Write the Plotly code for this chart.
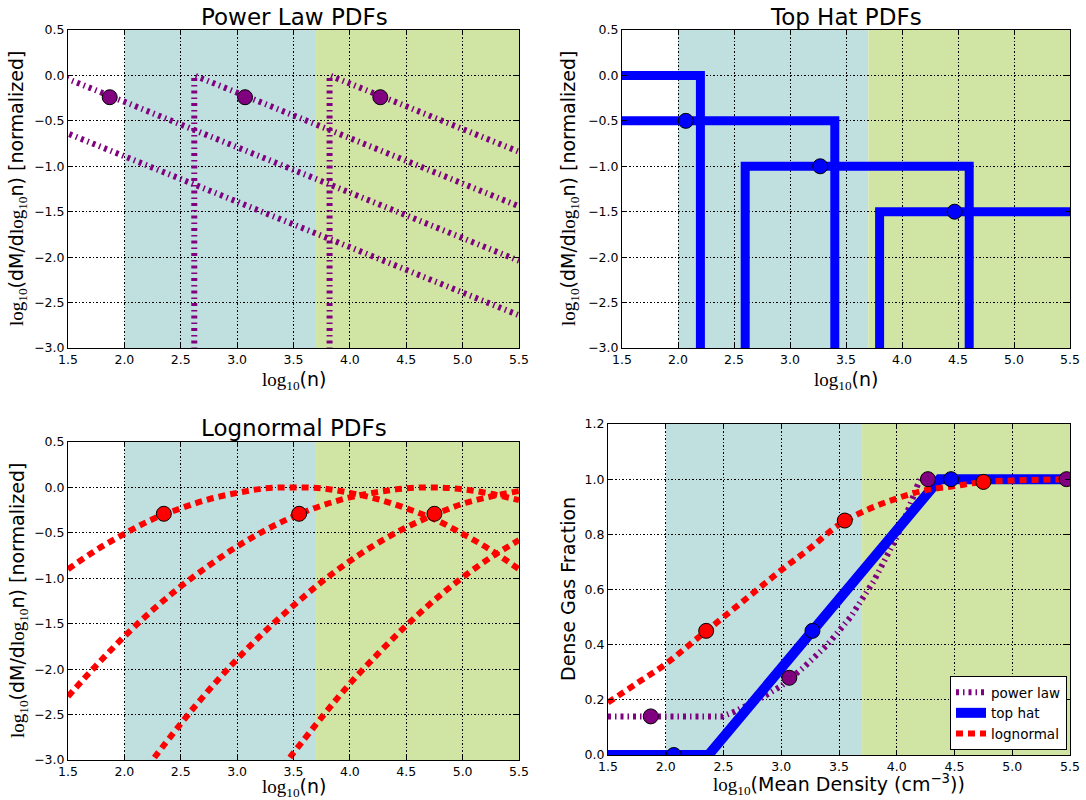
import plotly.graph_objects as go

# ---------------- data ----------------
# Power-law PDFs (threshold lines + slope -0.5 tails)
pl_line_x = [[0.22, 0.22, 5.5], [1.42, 1.42, 5.5], [2.62, 2.62, 5.5], [3.82, 3.82, 5.5]]
pl_line_y = [[-3.5, 0.0, -2.64], [-3.5, 0.0, -2.04], [-3.5, 0.0, -1.44], [-3.5, 0.0, -0.84]]
pl_dot_x = [1.87, 3.07, 4.27]
pl_dot_y = [-0.24, -0.24, -0.24]

# Top-hat PDFs
th_line_x = [[1.0, 2.2, 2.2], [1.0, 3.4, 3.4], [2.6, 2.6, 4.6, 4.6], [3.8, 3.8, 6.0]]
th_line_y = [[0.0, 0.0, -3.5], [-0.5, -0.5, -3.5], [-3.5, -1.0, -1.0, -3.5], [-3.5, -1.5, -1.5]]
th_dot_x = [2.07, 3.27, 4.47]
th_dot_y = [-0.5, -1.0, -1.5]

# Lognormal PDFs
ln1_x = [1.5, 1.75, 2.0, 2.25, 2.5, 2.75, 3.0, 3.25, 3.5, 3.75, 4.0, 4.25, 4.5, 4.75, 5.0, 5.25, 5.5]
ln1_y = [-0.90, -0.69, -0.51, -0.35, -0.23, -0.13, -0.06, -0.01, 0.0, -0.01, -0.06, -0.13, -0.23, -0.35, -0.51, -0.69, -0.90]
ln2_x = [1.5, 1.75, 2.0, 2.25, 2.5, 2.75, 3.0, 3.25, 3.5, 3.75, 4.0, 4.25, 4.5, 4.75, 5.0, 5.25, 5.5]
ln2_y = [-2.30, -1.96, -1.64, -1.35, -1.09, -0.86, -0.65, -0.47, -0.32, -0.20, -0.11, -0.05, -0.01, 0.0, -0.02, -0.07, -0.14]
ln3_x = [2.2, 2.5, 2.75, 3.0, 3.25, 3.5, 3.75, 4.0, 4.25, 4.5, 4.75, 5.0, 5.25, 5.5]
ln3_y = [-3.08, -2.60, -2.23, -1.89, -1.58, -1.30, -1.04, -0.81, -0.61, -0.44, -0.30, -0.18, -0.10, -0.04]
ln4_x = [3.4, 3.75, 4.0, 4.25, 4.5, 4.75, 5.0, 5.25, 5.5]
ln4_y = [-3.08, -2.53, -2.16, -1.83, -1.52, -1.24, -0.99, -0.77, -0.58]
ln_dot_x = [2.35, 3.55, 4.75]
ln_dot_y = [-0.29, -0.29, -0.29]

# Dense gas fraction vs mean density
dg_pl_x = [1.5, 2.0, 2.49, 2.6, 2.8, 3.0, 3.2, 3.4, 3.6, 3.8, 4.0, 4.1, 4.2, 5.5]
dg_pl_y = [0.14, 0.14, 0.14, 0.158, 0.20, 0.25, 0.32, 0.40, 0.50, 0.63, 0.79, 0.89, 1.0, 1.0]
dg_th_x = [1.5, 2.37, 4.37, 5.5]
dg_th_y = [0.0, 0.0, 1.0, 1.0]
dg_ln_x = [1.5, 1.75, 2.0, 2.25, 2.5, 2.75, 3.0, 3.25, 3.5, 3.75, 4.0, 4.25, 4.5, 4.75, 5.0, 5.25, 5.5]
dg_ln_y = [0.19, 0.26, 0.33, 0.415, 0.50, 0.585, 0.67, 0.75, 0.835, 0.89, 0.93, 0.96, 0.975, 0.99, 0.995, 0.998, 1.0]
dg_pl_dot_x = [1.87, 3.07, 4.27, 5.47]
dg_pl_dot_y = [0.14, 0.28, 1.0, 1.0]
dg_th_dot_x = [2.07, 3.27, 4.47]
dg_th_dot_y = [0.0, 0.45, 1.0]
dg_ln_dot_x = [2.35, 3.55, 4.75]
dg_ln_dot_y = [0.45, 0.85, 0.99]

# shaded density regimes
band_edges = [2.0, 3.7, 5.6]
band_colors = ["#C0E0E0", "#D0E5A4"]

x_ticks_range = [1.5, 5.5]
pdf_y_range = [-3.0, 0.5]
frac_y_range = [0.0, 1.2]

# ---------------- styles ----------------
PURPLE = "#800080"
BLUE = "#0000FF"
RED = "#FF0000"
PL_DASH = "3px,4px,1.5px,4px"
LN_DASH = "7px,5px"

fig = go.Figure()

def add_line(x, y, ax, color, width, dash, name=None, show=False, shape="linear"):
    fig.add_trace(go.Scatter(
        x=x, y=y, xaxis="x" + ax, yaxis="y" + ax, mode="lines",
        line=dict(color=color, width=width, dash=dash, shape=shape),
        name=name, showlegend=show, hoverinfo="skip"))

def add_dots(x, y, ax, color):
    fig.add_trace(go.Scatter(
        x=x, y=y, xaxis="x" + ax, yaxis="y" + ax, mode="markers",
        marker=dict(color=color, size=15, line=dict(color="black", width=1)),
        showlegend=False, hoverinfo="skip"))

# panel 1 : power law
for xs, ys in zip(pl_line_x, pl_line_y):
    add_line(xs, ys, "", PURPLE, 6, PL_DASH)
add_dots(pl_dot_x, pl_dot_y, "", PURPLE)

# panel 2 : top hat
for xs, ys in zip(th_line_x, th_line_y):
    add_line(xs, ys, "2", BLUE, 9, "solid")
add_dots(th_dot_x, th_dot_y, "2", BLUE)

# panel 3 : lognormal
for xs, ys in [(ln1_x, ln1_y), (ln2_x, ln2_y), (ln3_x, ln3_y), (ln4_x, ln4_y)]:
    add_line(xs, ys, "3", RED, 6, LN_DASH, shape="spline")
add_dots(ln_dot_x, ln_dot_y, "3", RED)

# panel 4 : dense gas fraction
add_line(dg_pl_x, dg_pl_y, "4", PURPLE, 6, PL_DASH, "power law", True)
add_line(dg_th_x, dg_th_y, "4", BLUE, 10, "solid", "top hat", True)
add_line(dg_ln_x, dg_ln_y, "4", RED, 6, LN_DASH, "lognormal", True, "spline")
add_dots(dg_pl_dot_x, dg_pl_dot_y, "4", PURPLE)
add_dots(dg_th_dot_x, dg_th_dot_y, "4", BLUE)
add_dots(dg_ln_dot_x, dg_ln_dot_y, "4", RED)

W, H = 1086, 800
def px(v):
    return v / W
def py(v):
    return 1 - v / H

dom = {
    "": ([68, 519], [30, 348]),
    "2": ([622, 1070], [30, 348]),
    "3": ([68, 519], [442, 760]),
    "4": ([608, 1070], [424, 755]),
}

axis_common = dict(
    showline=True, linecolor="black", linewidth=1, mirror="ticks",
    ticks="inside", ticklen=5, tickwidth=1, tickcolor="black",
    showgrid=True, gridcolor="black", gridwidth=1, griddash="1.5px,2px",
    zeroline=False, tickformat=".1f", automargin=False,
    tickfont=dict(family="DejaVu Sans", size=12.5, color="black"),
)

layout_axes = {}
for key, (xd, yd) in dom.items():
    n = key if key else ""
    xname = "xaxis" + n
    yname = "yaxis" + n
    layout_axes[xname] = dict(axis_common, domain=[px(xd[0]), px(xd[1])],
                              range=x_ticks_range, dtick=0.5, tick0=0,
                              anchor="y" + n)
    yr = frac_y_range if key == "4" else pdf_y_range
    layout_axes[yname] = dict(axis_common, domain=[py(yd[1]), py(yd[0])],
                              range=yr, dtick=0.2 if key == "4" else 0.5, tick0=0,
                              anchor="x" + n)

shapes = []
for key in dom:
    for i, c in enumerate(band_colors):
        shapes.append(dict(type="rect", xref="x" + key, yref=("y" + key) + " domain",
                           x0=band_edges[i], x1=band_edges[i + 1], y0=0, y1=1,
                           fillcolor=c, line=dict(width=0), layer="below"))

LOG = '<span style="font-family:Liberation Serif">log<sub>10</sub></span>'
ylab_pdf = LOG + "(dM/d" + LOG + "n) [normalized]"
xlab_n = LOG + "(n)"
xlab_md = LOG + "(Mean Density (cm<sup>−3</sup>))"

lab_font = dict(family="DejaVu Sans", size=19, color="black")
tit_font = dict(family="DejaVu Sans", size=23, color="black")

annotations = []
def ann(text, x, y, font, angle=0):
    annotations.append(dict(text=text, x=px(x), y=py(y), xref="paper", yref="paper",
                            showarrow=False, xanchor="center", yanchor="middle",
                            font=font, textangle=angle))

ann("Power Law PDFs", 294, 17, tit_font)
ann("Top Hat PDFs", 846, 17, tit_font)
ann("Lognormal PDFs", 294, 428, tit_font)
ann(xlab_n, 294, 380, lab_font)
ann(xlab_n, 846, 380, lab_font)
ann(xlab_n, 294, 787, lab_font)
ann(xlab_md, 839, 784, lab_font)
ann(ylab_pdf, 18, 189, lab_font, -90)
ann(ylab_pdf, 570, 189, lab_font, -90)
ann(ylab_pdf, 18, 601, lab_font, -90)
ann("Dense Gas Fraction", 568, 589, lab_font, -90)

fig.update_layout(
    width=W, height=H, margin=dict(l=0, r=0, t=0, b=0, pad=0, autoexpand=False),
    paper_bgcolor="white", plot_bgcolor="white",
    shapes=shapes, annotations=annotations,
    legend=dict(x=px(1067), y=py(750), xanchor="right", yanchor="bottom",
                bgcolor="white", bordercolor="black", borderwidth=1,
                font=dict(family="DejaVu Sans", size=13.5, color="black"),
                tracegroupgap=0, itemwidth=30),
    **layout_axes,
)

# remove the default 8px page margin so the 1086x800 figure fills the window
fig.write_html("out.html",
               config={"displayModeBar": False, "staticPlot": True},
               post_script="document.body.style.margin='0px';")
